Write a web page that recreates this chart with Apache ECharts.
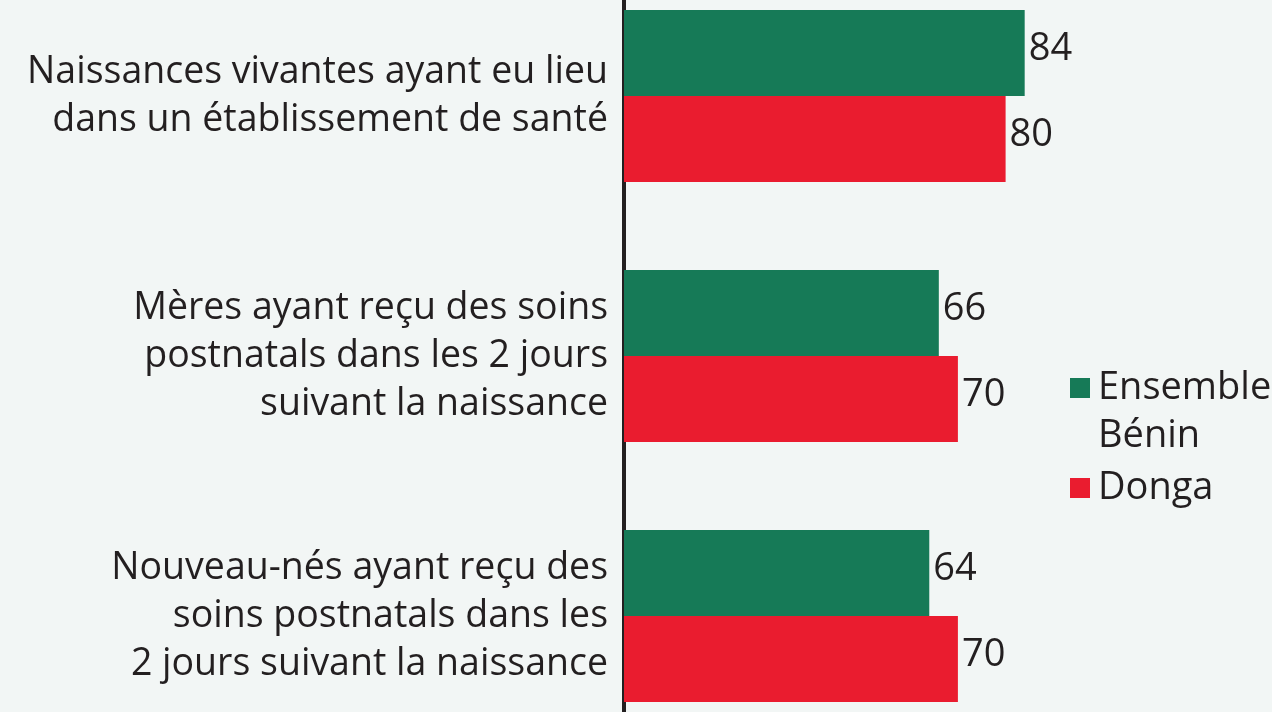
<!DOCTYPE html>
<html>
<head>
<meta charset="utf-8">
<script src="https://cdn.jsdelivr.net/npm/echarts@6/dist/echarts.min.js"></script>
<style>
  html, body { margin: 0; padding: 0; background: #f2f6f5; }
  #chart { width: 1272px; height: 712px; }
</style>
</head>
<body>
<div id="chart"></div>
<script>
const categories = [
  'Naissances vivantes ayant eu lieu\ndans un établissement de santé',
  'Mères ayant reçu des soins\npostnatals dans les 2 jours\nsuivant la naissance',
  'Nouveau-nés ayant reçu des\nsoins postnatals dans les\n2 jours suivant la naissance'
];
const seriesNames = ['Ensemble Bénin', 'Donga'];
const ensembleBenin = [84, 66, 64];
const donga = [80, 70, 70];

const FONT = 'Open Sans';
const TEXT = '#231f20';
const GREEN = '#167a57';
const RED = '#ea1c2f';

const chart = echarts.init(document.getElementById('chart'));

const yData = categories.map((c, i) => i === 0
  ? { value: c, textStyle: { padding: [0, 0, 20, 0] } }
  : { value: c, textStyle: { padding: [0, 0, 6, 0] } });

const valueLabel = {
  show: true,
  position: 'right',
  distance: 4,
  offset: [0, -4],
  fontFamily: FONT,
  fontSize: 38,
  color: TEXT
};

chart.setOption({
  backgroundColor: '#f2f6f5',
  animation: false,
  grid: {
    left: 624, right: 171, top: -34, bottom: -34,
    containLabel: false,
    outerBoundsMode: 'none'
  },
  xAxis: {
    type: 'value',
    min: 0,
    max: 100,
    show: false,
    splitLine: { show: false }
  },
  yAxis: {
    type: 'category',
    inverse: true,
    data: yData,
    axisLine: { show: true, lineStyle: { color: TEXT, width: 4 } },
    axisTick: { show: false },
    splitLine: { show: false },
    axisLabel: {
      margin: 16,
      fontFamily: FONT,
      fontSize: 37.5,
      lineHeight: 48,
      color: TEXT,
      align: 'right'
    }
  },
  legend: {
    orient: 'vertical',
    left: 1070,
    top: 316,
    padding: 0,
    itemWidth: 20,
    itemHeight: 20,
    itemGap: 4,
    icon: 'rect',
    textStyle: { fontFamily: FONT, fontSize: 38, lineHeight: 48, color: TEXT, padding: [0, 0, 0, 3] },
    data: seriesNames,
    formatter: function (name) {
      return name === seriesNames[0] ? '\u00a0\nEnsemble\nBénin' : name;
    }
  },
  series: [
    {
      name: seriesNames[0],
      type: 'bar',
      data: ensembleBenin,
      barWidth: 86,
      barGap: '0%',
      itemStyle: { color: GREEN },
      label: valueLabel
    },
    {
      name: seriesNames[1],
      type: 'bar',
      data: donga,
      barWidth: 86,
      barGap: '0%',
      itemStyle: { color: RED },
      label: valueLabel
    }
  ]
});
</script>
</body>
</html>
